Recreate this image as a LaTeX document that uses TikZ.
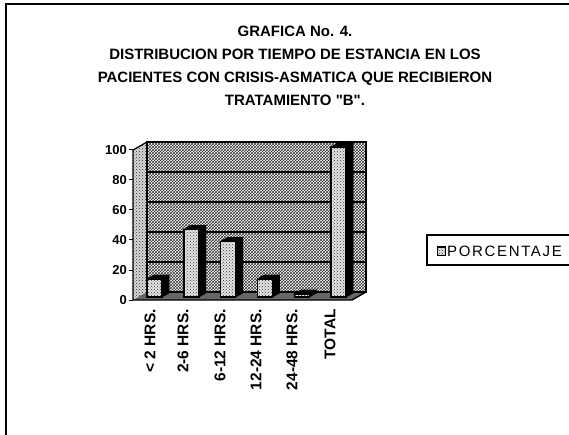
\documentclass[tikz,border=0pt]{standalone}
\usepackage{fontspec}
\setmainfont{Liberation Sans}[Ligatures=TeXReset]
\usetikzlibrary{patterns}

\begin{document}
\begin{tikzpicture}[x=1pt,y=-1pt,
    titletext/.style={font=\fontsize{15}{23}\selectfont\bfseries,align=center},
    valuelabel/.style={font=\fontsize{13}{13}\selectfont\bfseries,anchor=east,inner sep=1pt},
    catlabel/.style={font=\fontsize{15.5}{15.5}\selectfont\bfseries,rotate=90,anchor=east,inner sep=1pt},
    backwall/.style={preaction={fill=white},pattern=crosshatch,pattern color=black!80},
    sidewall/.style={preaction={fill=black!15},pattern=crosshatch dots,pattern color=black!85},
    floorpane/.style={fill=black!60},
    barfront/.style={preaction={fill=black!10},pattern=crosshatch dots,pattern color=black!80,draw=black,line width=1.4pt},
    barside/.style={fill=black,draw=black,line width=0.8pt},
    gridline/.style={draw=black,line width=1.4pt}]
\useasboundingbox (0,0) rectangle (569,435);

\draw[line width=1.6pt] (569,4) -- (6,4) -- (6,435);

\node[titletext] (title) at (295,66) {GRAFICA No. 4.\\
    DISTRIBUCION POR TIEMPO DE ESTANCIA EN LOS\\
    PACIENTES CON CRISIS-ASMATICA QUE RECIBIERON\\
    TRATAMIENTO "B".};

\path[backwall] (147,292) rectangle (366,142);
\path[sidewall] (133,300) -- (147,292) -- (147,142) -- (133,150) -- cycle;
\path[floorpane] (133,300) -- (352,300) -- (366,292) -- (147,292) -- cycle;
\draw[gridline] (147,262) -- (366,262);
\draw[gridline] (147,232) -- (366,232);
\draw[gridline] (147,202) -- (366,202);
\draw[gridline] (147,172) -- (366,172);
\draw[line width=1.2pt] (147,142) rectangle (366,292);
\draw[line width=1.2pt] (133,150) -- (147,142);
\draw[line width=1.4pt] (133,150) -- (133,300) -- (352,300) -- (366,292);

\draw[line width=1pt] (129,300) -- (133,300);
\draw[line width=1pt] (129,270) -- (133,270);
\draw[line width=1pt] (129,240) -- (133,240);
\draw[line width=1pt] (129,210) -- (133,210);
\draw[line width=1pt] (129,180) -- (133,180);
\draw[line width=1pt] (129,150) -- (133,150);

\node[valuelabel] (v0) at (128,300) {0};
\node[valuelabel] (v20) at (128,270) {20};
\node[valuelabel] (v40) at (128,240) {40};
\node[valuelabel] (v60) at (128,210) {60};
\node[valuelabel] (v80) at (128,180) {80};
\node[valuelabel] (v100) at (128,150) {100};

\draw[barfront] (147,297) rectangle (162,279);
\draw[barside] (162,297) -- (169,293) -- (169,275) -- (162,279) -- cycle;
\draw[barside] (147,279) -- (154,275) -- (169,275) -- (162,279) -- cycle;

\draw[barfront] (183.8,297) rectangle (198.8,229.5);
\draw[barside] (198.8,297) -- (205.8,293) -- (205.8,225.5) -- (198.8,229.5) -- cycle;
\draw[barside] (183.8,229.5) -- (190.8,225.5) -- (205.8,225.5) -- (198.8,229.5) -- cycle;

\draw[barfront] (220.6,297) rectangle (235.6,241.5);
\draw[barside] (235.6,297) -- (242.6,293) -- (242.6,237.5) -- (235.6,241.5) -- cycle;
\draw[barside] (220.6,241.5) -- (227.6,237.5) -- (242.6,237.5) -- (235.6,241.5) -- cycle;

\draw[barfront] (257.4,297) rectangle (272.4,279);
\draw[barside] (272.4,297) -- (279.4,293) -- (279.4,275) -- (272.4,279) -- cycle;
\draw[barside] (257.4,279) -- (264.4,275) -- (279.4,275) -- (272.4,279) -- cycle;

\draw[barfront] (294.2,297) rectangle (309.2,294);
\draw[barside] (309.2,297) -- (316.2,293) -- (316.2,290) -- (309.2,294) -- cycle;
\draw[barside] (294.2,294) -- (301.2,290) -- (316.2,290) -- (309.2,294) -- cycle;

\draw[barfront] (331,297) rectangle (346,147);
\draw[barside] (346,297) -- (353,293) -- (353,143) -- (346,147) -- cycle;
\draw[barside] (331,147) -- (338,143) -- (353,143) -- (346,147) -- cycle;

\node[catlabel] (c1) at (150,308) {< 2 HRS.};
\node[catlabel] (c2) at (183,308) {2-6 HRS.};
\node[catlabel] (c3) at (220,308) {6-12 HRS.};
\node[catlabel] (c4) at (256,308) {12-24 HRS.};
\node[catlabel] (c5) at (292,308) {24-48 HRS.};
\node[catlabel] (c6) at (330,308) {TOTAL};

\draw[line width=1.3pt] (569,235) -- (427,235) -- (427,265) -- (569,265);
\draw[barfront,line width=1pt] (437,247) rectangle (445,255);
\node[font=\fontsize{15}{15}\selectfont\addfontfeatures{LetterSpace=11},anchor=west,inner sep=1pt] (legend) at (446,251) {PORCENTAJE};
\end{tikzpicture}
\end{document}
